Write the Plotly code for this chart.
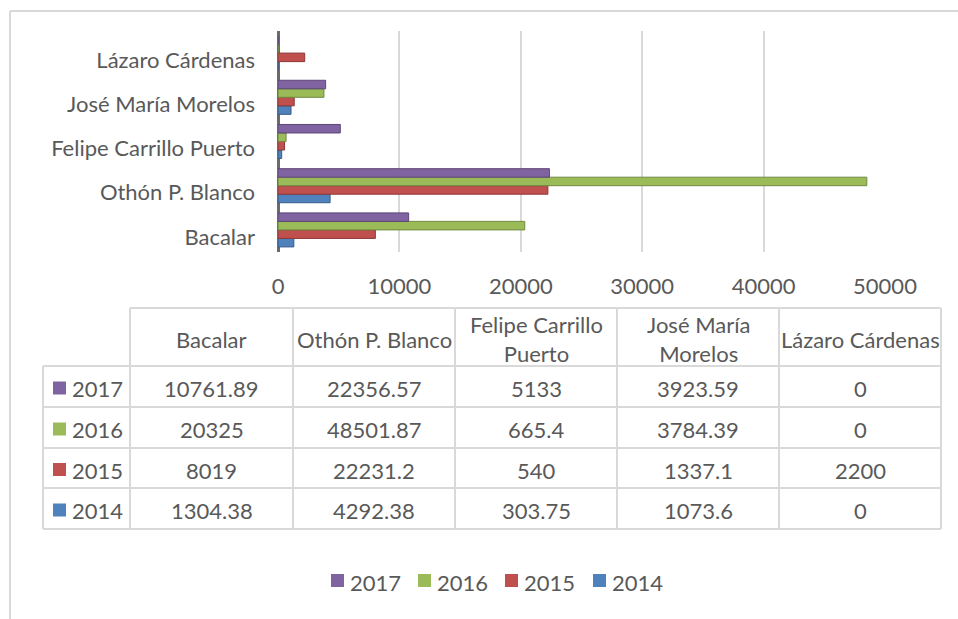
import plotly.graph_objects as go

# ---------------- data ----------------
categories = ["Bacalar", "Othón P. Blanco", "Felipe Carrillo Puerto",
              "José María Morelos", "Lázaro Cárdenas"]
header_labels = ["Bacalar", "Othón P. Blanco", "Felipe Carrillo<br>Puerto",
                 "José María<br>Morelos", "Lázaro Cárdenas"]
years = ["2014", "2015", "2016", "2017"]
v2014 = [1304.38, 4292.38, 303.75, 1073.6, 0]
v2015 = [8019, 22231.2, 540, 1337.1, 2200]
v2016 = [20325, 48501.87, 665.4, 3784.39, 0]
v2017 = [10761.89, 22356.57, 5133, 3923.59, 0]
series_values = [v2014, v2015, v2016, v2017]
colors = ["#4F81BD", "#C0504D", "#9BBB59", "#8064A2"]
edge_colors = ["#385D8A", "#8C3836", "#71893F", "#5C4776"]
x_ticks = [0, 10000, 20000, 30000, 40000, 50000]

# ---------------- geometry helpers ----------------
W, H = 958, 619
def px(x): return x / W
def py(y): return 1 - y / H

FONT = "Lato"
TXT = "#595959"
GRID = "#D9D9D9"
FS = 22

fig = go.Figure()
for yr, vals, c, ec in zip(years, series_values, colors, edge_colors):
    fig.add_trace(go.Bar(
        y=categories, x=vals, name=yr, orientation="h",
        marker=dict(color=c, line=dict(color=ec, width=1)),
        showlegend=False,
    ))

fig.update_layout(
    width=W, height=H, autosize=False,
    margin=dict(l=0, r=0, t=0, b=0, pad=0),
    paper_bgcolor="white", plot_bgcolor="white",
    barmode="group", bargap=0.23, bargroupgap=0,
    font=dict(family=FONT, size=FS, color=TXT),
    xaxis=dict(domain=[px(278), px(885)], range=[0, 50000],
               tickvals=x_ticks, ticktext=[str(t) for t in x_ticks],
               showgrid=True, gridcolor=GRID, gridwidth=1.5,
               zeroline=True, zerolinecolor="#6B6B6B", zerolinewidth=3,
               ticks="", ticklabelstandoff=19, automargin=False,
               tickfont=dict(family=FONT, size=FS, color=TXT),
               fixedrange=True),
    yaxis=dict(domain=[py(252), py(31)], type="category",
               categoryorder="array", categoryarray=categories,
               showgrid=False, zeroline=False, ticks="",
               ticklabelstandoff=22, ticklabelshift=7, automargin=False,
               tickfont=dict(family=FONT, size=FS, color=TXT),
               fixedrange=True),
)

shapes = []
# outer chart border (left + top)
shapes.append(dict(type="line", xref="paper", yref="paper",
                   x0=px(10), x1=px(10), y0=py(11), y1=0,
                   line=dict(color=GRID, width=2)))
shapes.append(dict(type="line", xref="paper", yref="paper",
                   x0=px(10), x1=1, y0=py(11), y1=py(11),
                   line=dict(color=GRID, width=2)))

# data table
col_edges = [43, 130, 293, 455, 617, 779, 941]
row_edges = [308, 366, 407, 448, 488, 529]
for i, y in enumerate(row_edges):
    x0 = col_edges[1] if i == 0 else col_edges[0]
    shapes.append(dict(type="line", xref="paper", yref="paper",
                       x0=px(x0), x1=px(col_edges[-1]), y0=py(y), y1=py(y),
                       line=dict(color=GRID, width=2)))
for j, x in enumerate(col_edges):
    y0 = row_edges[1] if j == 0 else row_edges[0]
    shapes.append(dict(type="line", xref="paper", yref="paper",
                       x0=px(x), x1=px(x), y0=py(y0), y1=py(row_edges[-1]),
                       line=dict(color=GRID, width=2)))

annotations = []
# header
for j, lab in enumerate(header_labels):
    cx = (col_edges[j + 1] + col_edges[j + 2]) / 2
    cy = (row_edges[0] + row_edges[1]) / 2 + 2
    annotations.append(dict(text=lab, xref="paper", yref="paper",
                            x=px(cx), y=py(cy), xanchor="center", yanchor="middle",
                            showarrow=False, font=dict(family=FONT, size=FS, color=TXT)))

def fmt(v):
    return format(v, ".2f").rstrip("0").rstrip(".")

# body rows (2017 at top)
order = [3, 2, 1, 0]
for r, si in enumerate(order):
    cy = (row_edges[r + 1] + row_edges[r + 2]) / 2 + 2
    # legend key square
    shapes.append(dict(type="rect", xref="paper", yref="paper",
                       x0=px(53), x1=px(66), y0=py(cy - 7), y1=py(cy + 6),
                       fillcolor=colors[si], line=dict(width=0)))
    annotations.append(dict(text=years[si], xref="paper", yref="paper",
                            x=px(70), y=py(cy), xanchor="left", yanchor="middle",
                            showarrow=False, font=dict(family=FONT, size=FS, color=TXT)))
    for j, v in enumerate(series_values[si]):
        cx = (col_edges[j + 1] + col_edges[j + 2]) / 2
        annotations.append(dict(text=fmt(v), xref="paper", yref="paper",
                                x=px(cx), y=py(cy), xanchor="center", yanchor="middle",
                                showarrow=False, font=dict(family=FONT, size=FS, color=TXT)))

# legend (bottom): 2017, 2016, 2015, 2014
leg_x = [331, 418, 505, 593]
leg_y = 581
for k, si in enumerate(order):
    x0 = leg_x[k]
    shapes.append(dict(type="rect", xref="paper", yref="paper",
                       x0=px(x0), x1=px(x0 + 13), y0=py(leg_y + 6), y1=py(leg_y - 7),
                       fillcolor=colors[si], line=dict(width=0)))
    annotations.append(dict(text=years[si], xref="paper", yref="paper",
                            x=px(x0 + 17), y=py(leg_y + 1), xanchor="left", yanchor="middle",
                            showarrow=False, font=dict(family=FONT, size=FS, color=TXT)))

fig.update_layout(shapes=shapes, annotations=annotations)
fig.write_html("out.html", config={"displayModeBar": False},
               post_script="document.body.style.margin='0px';document.body.style.overflow='hidden';")
